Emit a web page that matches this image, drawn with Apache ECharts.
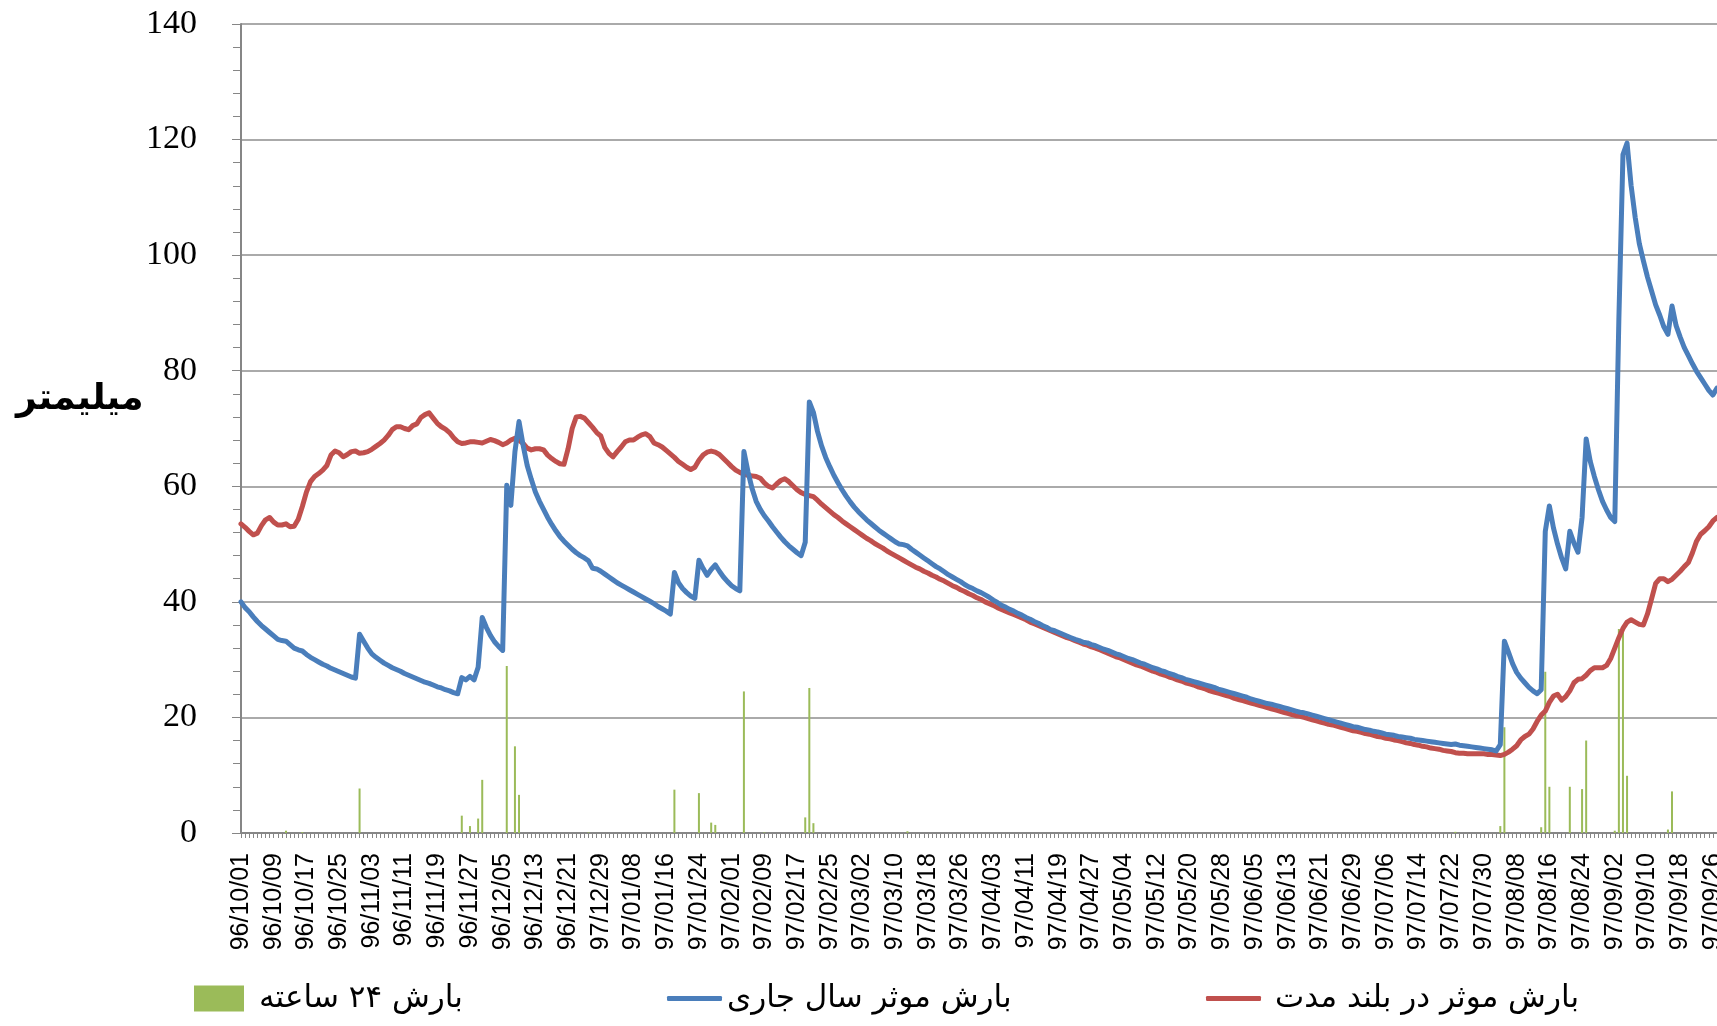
<!DOCTYPE html>
<html><head><meta charset="utf-8">
<script src="https://cdn.jsdelivr.net/npm/echarts@6/dist/echarts.min.js"></script>
<style>html,body{margin:0;padding:0;background:#fff}#c{width:1717px;height:1026px}</style>
</head><body><div id="c"></div><script>
// Shown tick labels (every 8th day), as printed in the source chart
const tickLabels = ['96/10/01','96/10/09','96/10/17','96/10/25','96/11/03','96/11/11','96/11/19','96/11/27','96/12/05','96/12/13','96/12/21','97/12/29','97/01/08','97/01/16','97/01/24','97/02/01','97/02/09','97/02/17','97/02/25','97/03/02','97/03/10','97/03/18','97/03/26','97/04/03','97/04/11','97/04/19','97/04/27','97/05/04','97/05/12','97/05/20','97/05/28','97/06/05','97/06/13','97/06/21','97/06/29','97/07/06','97/07/14','97/07/22','97/07/30','97/08/08','97/08/16','97/08/24','97/09/02','97/09/10','97/09/18','97/09/26'];

// Persian calendar months covered (year, month, days)
const months = [[96,10,30],[96,11,30],[96,12,29],[97,1,31],[97,2,31],[97,3,31],[97,4,31],[97,5,31],[97,6,31],[97,7,30],[97,8,30],[97,9,30]];
const dayCount = 362;

// Current-year effective precipitation (mm), daily
const currentYear = [
40.0,39.0,38.3,37.4,36.6,35.9,35.3,34.7,34.1,33.5,
33.3,33.2,32.6,32.0,31.7,31.5,30.9,30.4,30.0,29.6,
29.2,28.9,28.5,28.2,27.9,27.6,27.3,27.0,26.8,34.4,
33.2,32.0,31.0,30.4,29.9,29.4,29.0,28.6,28.3,28.0,
27.6,27.3,27.0,26.7,26.4,26.1,25.9,25.6,25.3,25.1,
24.8,24.6,24.3,24.1,26.9,26.5,27.1,26.5,28.7,37.3,
35.6,34.2,33.1,32.3,31.6,60.2,56.7,66.0,71.2,67.1,
63.6,61.2,59.0,57.4,56.0,54.6,53.4,52.3,51.3,50.5,
49.8,49.1,48.5,48.0,47.6,47.1,45.8,45.7,45.3,44.8,
44.3,43.8,43.3,42.9,42.5,42.1,41.7,41.3,40.9,40.5,
40.1,39.7,39.2,38.8,38.4,37.9,45.1,43.3,42.3,41.6,
41.0,40.6,47.2,45.8,44.6,45.6,46.4,45.3,44.3,43.5,
42.8,42.3,41.9,66.0,62.5,59.6,57.4,56.0,54.9,54.0,
53.0,52.1,51.2,50.4,49.7,49.1,48.5,48.0,50.3,74.6,
72.8,69.5,67.0,65.0,63.4,61.9,60.6,59.4,58.3,57.3,
56.4,55.6,54.9,54.2,53.6,53.0,52.4,51.9,51.4,50.9,
50.4,50.0,49.9,49.7,49.1,48.6,48.1,47.6,47.1,46.6,
46.1,45.7,45.2,44.7,44.3,43.9,43.5,43.0,42.6,42.3,
41.9,41.6,41.2,40.8,40.3,39.9,39.4,39.1,38.7,38.4,
38.0,37.7,37.3,37.0,36.6,36.3,35.9,35.6,35.2,35.0,
34.7,34.4,34.1,33.8,33.5,33.3,33.0,32.9,32.6,32.4,
32.1,31.8,31.6,31.3,31.0,30.8,30.5,30.2,30.0,29.7,
29.4,29.2,28.9,28.6,28.4,28.1,27.9,27.6,27.4,27.1,
26.9,26.6,26.4,26.2,26.0,25.8,25.6,25.4,25.2,24.9,
24.7,24.5,24.3,24.1,23.9,23.7,23.5,23.2,23.0,22.8,
22.6,22.4,22.3,22.1,21.9,21.7,21.5,21.3,21.1,20.9,
20.8,20.6,20.4,20.2,20.0,19.8,19.6,19.4,19.2,19.0,
18.8,18.6,18.4,18.3,18.1,17.9,17.8,17.6,17.5,17.3,
17.1,17.0,16.9,16.7,16.6,16.5,16.4,16.2,16.1,16.0,
15.9,15.8,15.7,15.6,15.5,15.4,15.3,15.4,15.2,15.1,
15.0,14.9,14.8,14.7,14.6,14.5,14.4,14.2,15.3,33.2,
31.3,29.3,27.8,26.8,26.0,25.2,24.6,24.1,24.8,52.2,
56.6,52.8,50.0,47.6,45.7,52.2,50.2,48.6,54.6,68.2,
64.3,61.7,59.4,57.4,55.9,54.6,53.9,89.0,117.4,119.4,
112.0,106.5,102.0,99.0,96.2,93.8,91.4,89.6,87.6,86.3,
91.2,87.8,85.8,84.0,82.6,81.2,79.9,78.8,77.7,76.6,
75.8,77.0
];

// Long-term effective precipitation (mm), daily
const longTerm = [
53.5,52.9,52.2,51.6,51.9,53.2,54.2,54.6,53.8,53.3,
53.3,53.5,53.0,53.1,54.3,56.5,59.0,60.8,61.7,62.2,
62.8,63.6,65.4,66.1,65.8,65.1,65.5,66.0,66.1,65.7,
65.8,66.0,66.4,66.9,67.4,68.0,68.8,69.8,70.3,70.3,
70.0,69.8,70.5,70.8,71.9,72.4,72.7,71.8,70.9,70.3,
69.9,69.3,68.4,67.7,67.4,67.5,67.7,67.7,67.6,67.5,
67.8,68.1,67.9,67.6,67.2,67.5,68.0,68.3,68.0,67.4,
66.6,66.3,66.5,66.5,66.3,65.4,64.8,64.3,63.9,63.8,
66.5,70.0,72.0,72.1,71.8,71.0,70.2,69.3,68.7,66.7,
65.7,65.1,66.0,66.8,67.7,68.0,68.0,68.5,68.9,69.1,
68.6,67.5,67.2,66.8,66.2,65.6,65.0,64.3,63.8,63.3,
62.9,63.3,64.5,65.4,65.9,66.1,65.9,65.5,64.8,64.1,
63.4,62.8,62.4,62.1,61.9,61.8,61.7,61.4,60.6,60.0,
59.7,60.4,61.0,61.3,60.8,60.1,59.4,58.9,58.6,58.4,
58.2,57.6,56.9,56.3,55.7,55.1,54.6,54.0,53.5,53.0,
52.5,52.0,51.5,51.0,50.6,50.1,49.7,49.3,48.8,48.4,
48.0,47.6,47.2,46.8,46.4,46.0,45.7,45.3,45.0,44.6,
44.3,43.9,43.6,43.2,42.8,42.5,42.1,41.8,41.4,41.1,
40.7,40.4,40.0,39.7,39.4,39.0,38.7,38.4,38.1,37.8,
37.5,37.2,36.9,36.5,36.2,35.9,35.6,35.3,35.0,34.7,
34.4,34.1,33.8,33.6,33.3,33.0,32.7,32.5,32.2,32.0,
31.7,31.4,31.1,30.8,30.5,30.3,30.0,29.7,29.4,29.1,
28.9,28.6,28.3,28.0,27.8,27.5,27.3,27.0,26.8,26.5,
26.3,26.0,25.8,25.6,25.3,25.1,24.9,24.6,24.4,24.2,
24.0,23.8,23.6,23.3,23.1,22.9,22.7,22.5,22.3,22.1,
21.9,21.7,21.5,21.3,21.1,20.9,20.7,20.5,20.3,20.2,
20.0,19.8,19.6,19.4,19.2,19.0,18.8,18.7,18.5,18.3,
18.1,17.9,17.7,17.6,17.4,17.2,17.1,16.9,16.7,16.6,
16.4,16.3,16.1,16.0,15.8,15.6,15.5,15.3,15.2,15.0,
14.9,14.7,14.6,14.5,14.3,14.2,14.1,13.9,13.8,13.8,
13.7,13.7,13.7,13.7,13.7,13.6,13.6,13.5,13.4,13.6,
14.0,14.5,15.1,16.1,16.7,17.1,18.0,19.3,20.4,21.1,
22.6,23.7,24.0,23.0,23.6,24.6,26.0,26.6,26.7,27.3,
28.1,28.6,28.6,28.6,29.0,30.2,32.0,33.8,35.4,36.5,
36.9,36.5,36.1,36.0,37.9,40.5,43.2,44.0,44.0,43.5,
43.9,44.6,45.3,46.1,46.8,48.5,50.5,51.7,52.3,53.0,
54.0,54.6
];

// 24-hour rainfall (mm): day index and amount
const rainDays   = [11, 15, 29, 54, 56, 58, 59, 65, 67, 68, 85, 106, 112, 115, 116, 123, 128, 138, 139, 140, 163, 297, 308, 309, 318, 319, 320, 325, 328, 329, 336, 337, 338, 339, 349, 350];
const rainValues = [0.4, 0.15, 7.7, 3.0, 1.2, 2.5, 9.2, 28.9, 15.0, 6.6, 0.1, 7.5, 6.9, 1.8, 1.4, 24.5, 0.1, 2.7, 25.1, 1.7, 0.3, 0.2, 1.2, 18.3, 1.0, 27.9, 8.0, 8.0, 7.6, 16.0, 0.4, 35.3, 35.3, 9.9, 0.6, 7.2];

const seriesNames = ['بارش ۲۴ ساعته', 'بارش موثر سال جاری', 'بارش موثر در بلند مدت'];
const yAxisTitle = 'میلیمتر';

// build category list
const pad = n => (n < 10 ? '0' : '') + n;
const categories = [];
for (const [y, m, len] of months) {
  for (let d = 1; d <= len && categories.length < dayCount; d++) categories.push(y + '/' + pad(m) + '/' + pad(d));
}
const rain = new Array(dayCount).fill(0);
rainDays.forEach((d, i) => { rain[d] = rainValues[i]; });

const chart = echarts.init(document.getElementById('c'), null, {renderer: 'canvas'});
const gray = '#868686';
const legendText = {fontSize: 31, fontFamily: '"DejaVu Sans"', color: '#000'};
chart.setOption({
  animation: false,
  backgroundColor: '#fff',
  grid: {left: 241, right: 0, top: 24, bottom: 193, containLabel: false, outerBoundsMode: 'none'},
  xAxis: {
    type: 'category', data: categories, boundaryGap: false,
    axisLine: {lineStyle: {color: gray, width: 2}},
    axisTick: {show: true, interval: 0, length: 5, lineStyle: {color: gray, width: 1}},
    axisLabel: {
      interval: (i) => i % 8 === 0, rotate: 90, margin: 20, fontSize: 25,
      fontFamily: '"Liberation Sans", Arial', color: '#000',
      formatter: (v, i) => tickLabels[i / 8]
    },
    splitLine: {show: false}
  },
  yAxis: {
    type: 'value', min: 0, max: 140, interval: 20,
    axisLine: {show: true, lineStyle: {color: gray, width: 2}},
    axisTick: {show: true, length: 9, lineStyle: {color: gray, width: 1}},
    minorTick: {show: true, splitNumber: 5, length: 8, lineStyle: {color: gray, width: 1}},
    splitLine: {show: true, lineStyle: {color: '#8e8e8e', width: 1.5}},
    axisLabel: {fontSize: 34, fontFamily: '"Liberation Serif", "Times New Roman", serif', color: '#000', margin: 44}
  },
  legend: [
    {data: [{name: seriesNames[0], icon: 'rect'}], left: 194, top: 983, padding: 0, itemWidth: 50, itemHeight: 26,
     textStyle: Object.assign({padding: [0, 0, 0, 10]}, legendText)},
    {data: [{name: seriesNames[1], icon: 'roundRect'}], left: 667, top: 983, padding: 0, itemWidth: 55, itemHeight: 5, textStyle: legendText},
    {data: [{name: seriesNames[2], icon: 'roundRect'}], left: 1206, top: 983, padding: 0, itemWidth: 55, itemHeight: 5,
     textStyle: Object.assign({padding: [0, 0, 0, 9]}, legendText)}
  ],
  graphic: [{
    type: 'text', left: 16, top: 382,
    style: {text: yAxisTitle, font: 'bold 36px "DejaVu Sans"', fill: '#000'}
  }],
  series: [
    {name: seriesNames[0], type: 'bar', data: rain, barWidth: 2, itemStyle: {color: '#9bbb59'}, z: 1},
    {name: seriesNames[2], type: 'line', data: longTerm, symbol: 'none', showSymbol: false,
     lineStyle: {width: 5, color: '#c0504d', join: 'round', cap: 'round'}, itemStyle: {color: '#c0504d'}, z: 2},
    {name: seriesNames[1], type: 'line', data: currentYear, symbol: 'none', showSymbol: false,
     lineStyle: {width: 5, color: '#4a7ebb', join: 'round', cap: 'round'}, itemStyle: {color: '#4a7ebb'}, z: 3}
  ]
});
</script></body></html>
